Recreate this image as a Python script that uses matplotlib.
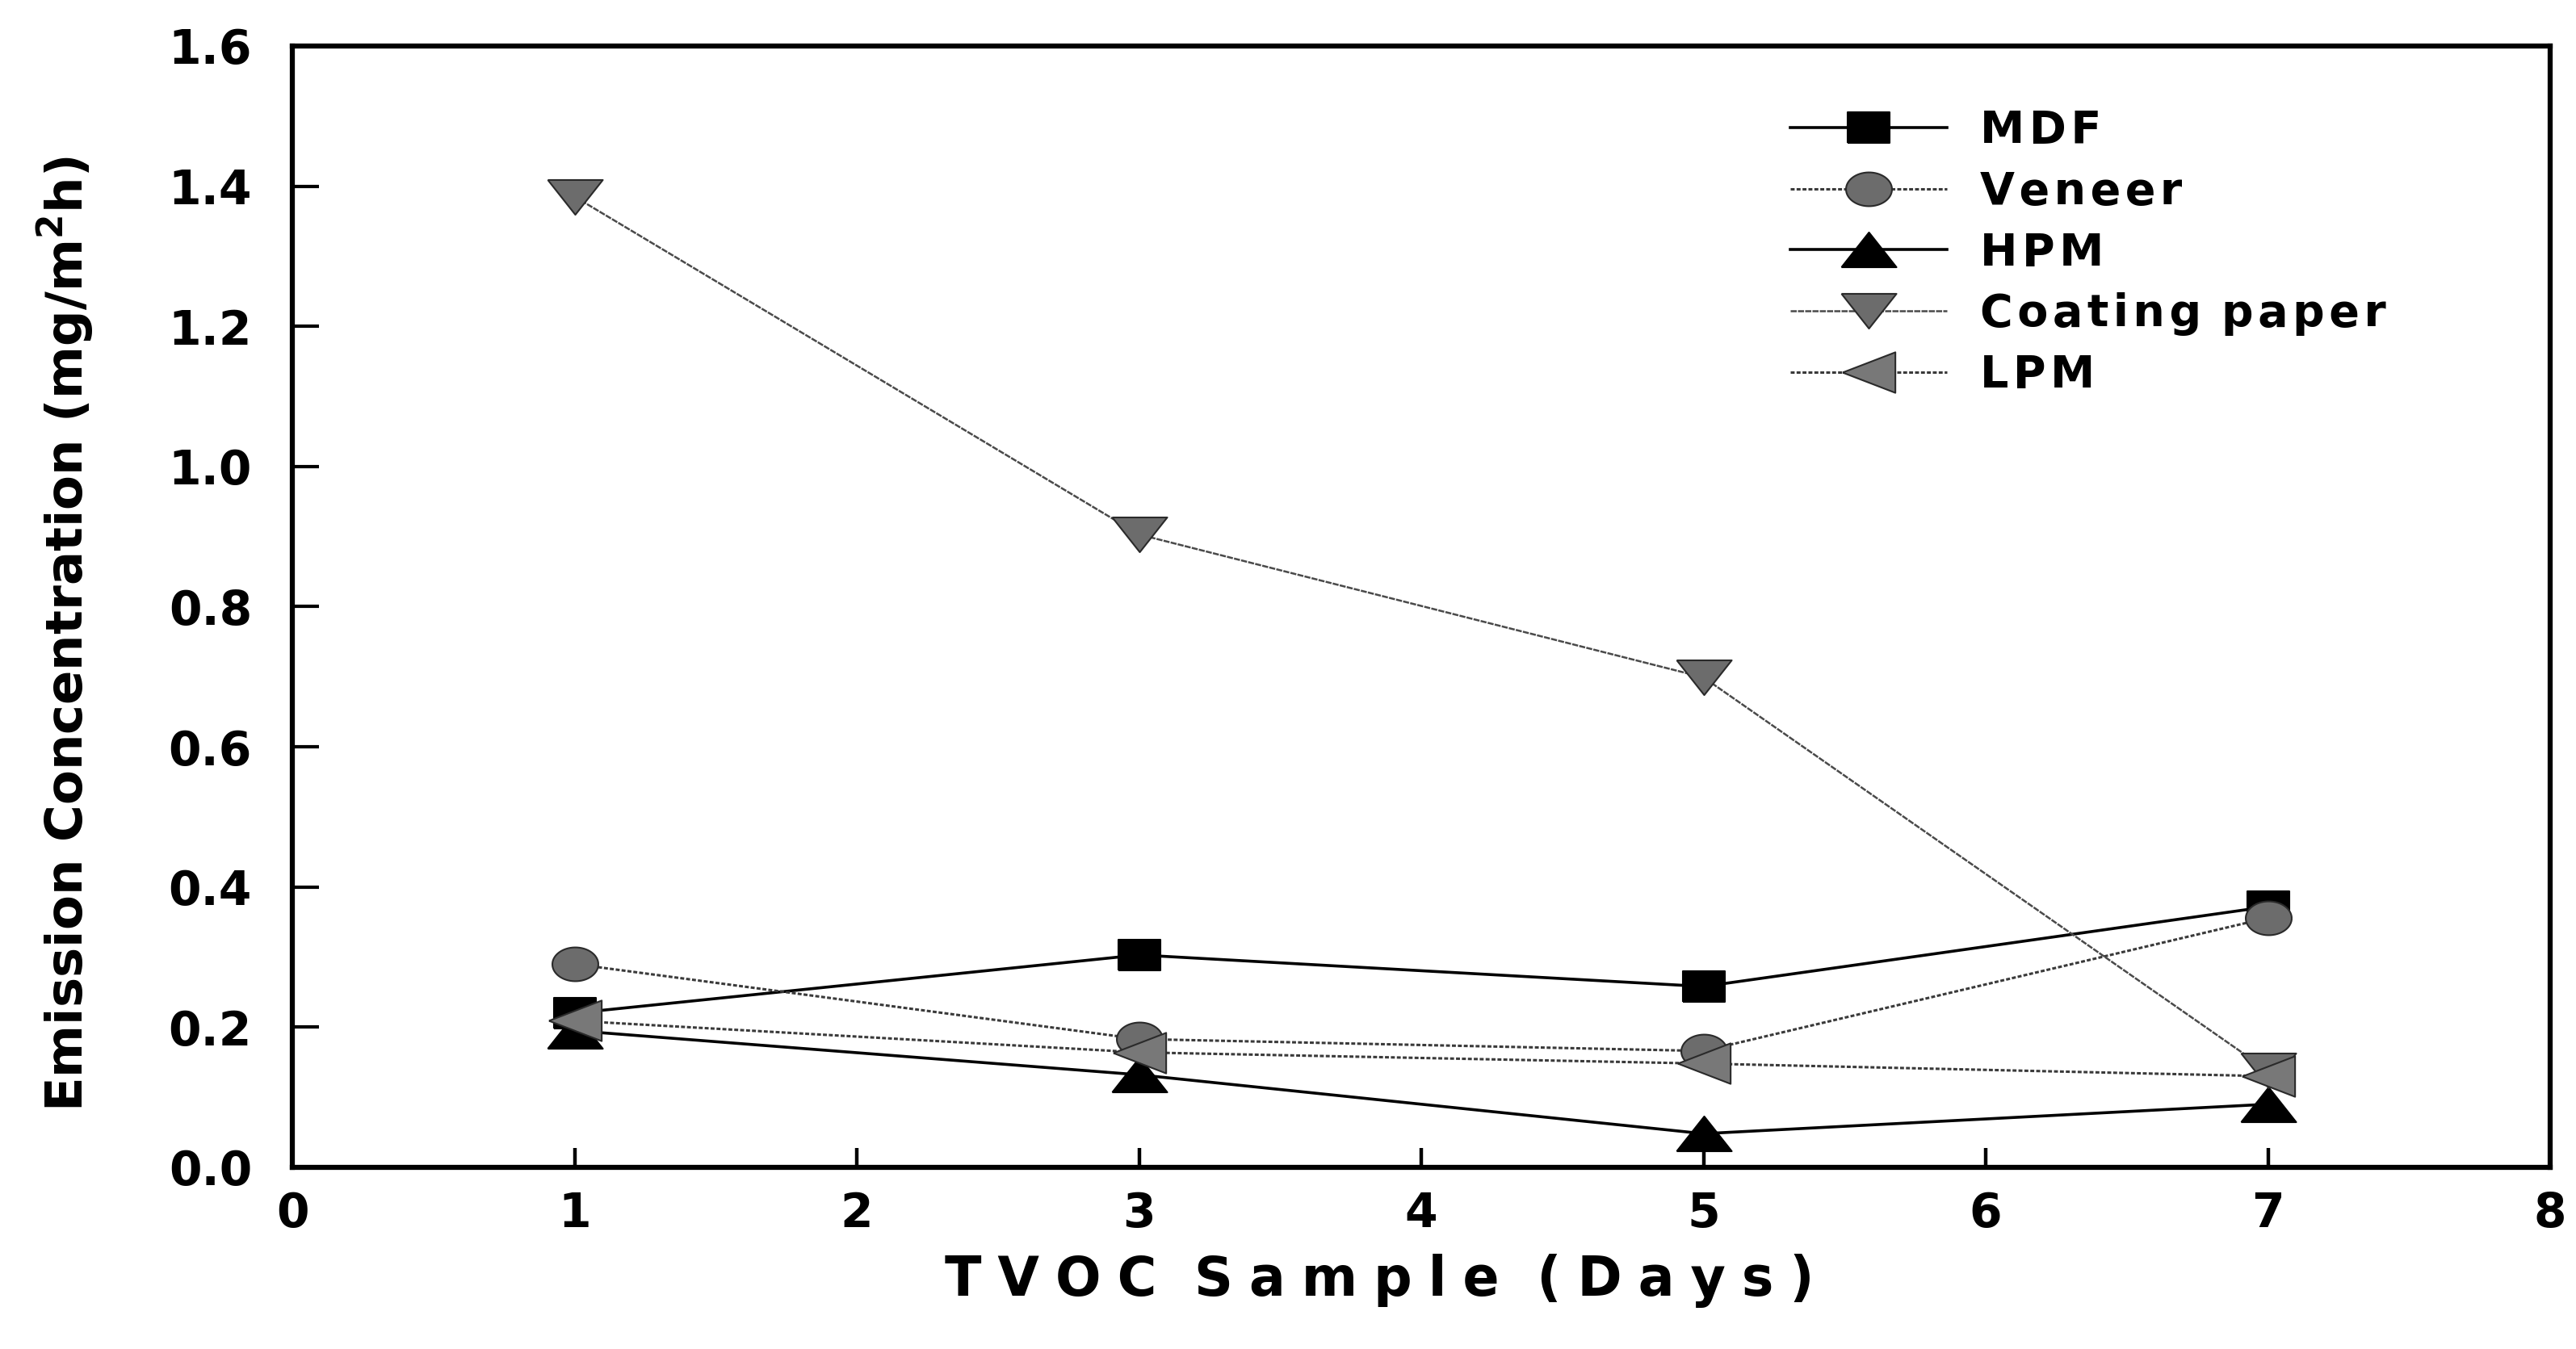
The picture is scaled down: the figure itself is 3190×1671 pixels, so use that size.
import numpy as np
import matplotlib
matplotlib.use("Agg")
import matplotlib.pyplot as plt
from matplotlib.ticker import FormatStrFormatter

# Emission data (mg/m^2 h) sampled on days 1, 3, 5 and 7
days = [1, 3, 5, 7]
labels = ["MDF", "Veneer", "HPM", "Coating paper", "LPM"]
mdf = [0.220, 0.303, 0.258, 0.372]
veneer = [0.290, 0.183, 0.166, 0.356]
hpm = [0.195, 0.132, 0.048, 0.090]
coating_paper = [1.385, 0.903, 0.699, 0.138]
lpm = [0.209, 0.164, 0.148, 0.130]

x_ticks = [0, 1, 2, 3, 4, 5, 6, 7, 8]
y_ticks = [0.0, 0.2, 0.4, 0.6, 0.8, 1.0, 1.2, 1.4, 1.6]

plt.rcParams["font.family"] = ["DejaVu Sans"]
plt.rcParams["font.weight"] = "bold"
plt.rcParams["mathtext.fontset"] = "dejavusans"
plt.rcParams["mathtext.default"] = "bf"

# Slightly wide symbol shapes
t = np.linspace(0, 2 * np.pi, 64)
m_square = [(-1.37, -1), (1.37, -1), (1.37, 1), (-1.37, 1), (-1.37, -1)]
m_circle = list(zip(1.36 * np.cos(t), np.sin(t)))
m_up = [(-1.58, -1), (1.58, -1), (0, 1), (-1.58, -1)]
m_down = [(-1.58, 1), (1.58, 1), (0, -1), (-1.58, 1)]
m_left = [(-1.3, 0), (1.3, 1), (1.3, -1), (-1.3, 0)]

styles = [
    dict(marker=m_square, ms=37, ls="-", color="black", lw=2.6, mfc="black", mec="black"),
    dict(marker=m_circle, ms=41, ls=(0, (1.6, 0.8)), color="#3a3a3a", lw=2.2, mfc="#6c6c6c", mec="#2a2a2a"),
    dict(marker=m_up, ms=49, ls="-", color="black", lw=2.6, mfc="black", mec="black"),
    dict(marker=m_down, ms=49, ls=(0, (3, 0.6)), color="#4a4a4a", lw=1.8, mfc="#6c6c6c", mec="#2a2a2a"),
    dict(marker=m_left, ms=47, ls=(0, (1.6, 0.8)), color="#3a3a3a", lw=2.2, mfc="#787878", mec="#2a2a2a"),
]

thin, hair = "\u2009", "\u200a"


def spaced(text, sep, word_gap):
    return word_gap.join(sep.join(w) for w in text.split(" "))


fig = plt.figure(figsize=(31.9, 16.71), dpi=100)
ax = fig.add_axes([0.1135, 0.1347, 0.8765, 0.8312])

for name, values, st in zip(labels, [mdf, veneer, hpm, coating_paper, lpm], styles):
    ax.plot(days, values, label=spaced(name, hair, " " + hair),
            marker=st["marker"], markersize=st["ms"],
            linestyle=st["ls"], color=st["color"], linewidth=st["lw"],
            markerfacecolor=st["mfc"], markeredgecolor=st["mec"], markeredgewidth=1.5)

ax.set_xlim(0, 8)
ax.set_ylim(0, 1.6)
ax.set_xticks(x_ticks)
ax.set_yticks(y_ticks)
ax.yaxis.set_major_formatter(FormatStrFormatter("%.1f"))

for sp in ax.spines.values():
    sp.set_linewidth(4.5)

ax.tick_params(axis="x", direction="in", length=17, width=3.2, pad=21, labelsize=42)
ax.tick_params(axis="y", direction="in", length=24, width=3.0, pad=36, labelsize=42)

ax.set_xlabel(spaced("TVOC Sample (Days)", thin + hair, "  "), fontsize=48, fontweight="bold")
ax.xaxis.label.set_va("center")
ax.xaxis.set_label_coords(0.4816, -0.101)

ax.set_ylabel("Emission Concentration (mg/m$^{2}$h)", fontsize=45, fontweight="bold")
ax.yaxis.label.set_va("center")
ax.yaxis.set_label_coords(-0.1005, 0.476)

ax.legend(loc="upper left", bbox_to_anchor=(0.695, 0.919),
          bbox_transform=fig.transFigure, frameon=False,
          prop={"size": 40, "weight": "bold"}, handlelength=3.5,
          handletextpad=0.73, labelspacing=0.39, borderpad=0, borderaxespad=0)

fig.savefig("out.png", dpi=100, facecolor="white")
